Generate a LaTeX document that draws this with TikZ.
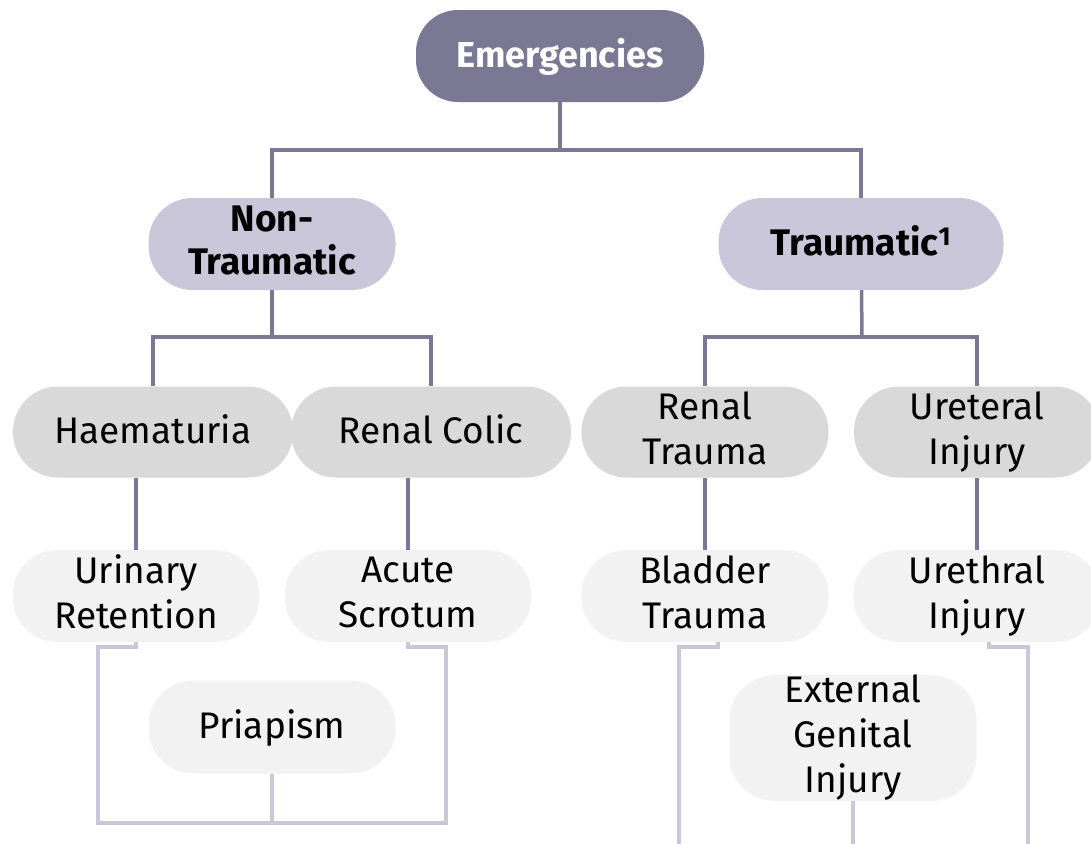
\documentclass[tikz,border=0pt]{standalone}
\usepackage{fontspec}
\setmainfont{Fira Sans}
\usepackage{tikz}
\usetikzlibrary{calc}
\definecolor{plumx}{HTML}{7B7893}
\definecolor{lilacx}{HTML}{C9C7D9}
\definecolor{greyx}{HTML}{D9D9D9}
\definecolor{palex}{HTML}{F2F2F2}
\newcommand{\capstrut}{\rule[-8pt]{0pt}{38pt}}
\tikzset{
  pill/.style={inner sep=0pt,align=center,execute at begin node=\capstrut,execute at end node=\capstrut},
  root/.style={pill,fill=plumx,text=white,rounded corners=42pt,minimum width=288pt,minimum height=92pt,font=\fontsize{36}{43}\selectfont\bfseries},
  sub/.style={pill,fill=lilacx,rounded corners=44pt,minimum width=247pt,minimum height=92pt,font=\fontsize{37}{43}\selectfont\bfseries},
  mid/.style={pill,fill=greyx,rounded corners=45pt,minimum width=280pt,minimum height=91pt,font=\fontsize{37}{45}\selectfont},
  leaf/.style={pill,fill=palex,rounded corners=45pt,minimum width=247pt,minimum height=92pt,font=\fontsize{37}{45}\selectfont},
  ln/.style={plumx,line width=3.5pt},
  lnl/.style={lilacx,line width=3.5pt}
}
\begin{document}
\begin{tikzpicture}[x=1pt,y=-1pt]
\fill[white] (0,0) rectangle (1091,844);
\useasboundingbox (0,0) rectangle (1091,844);
% top levels
\node[root] (emg) at (560,56) {Emergencies};
\node[sub] (nontr) at (272,244) {Non-\\Traumatic};
\node[sub,minimum width=285pt] (trau) at (861,244) {Traumatic\textsuperscript{1}};
% second level
\node[mid] (haem) at (153,432) {Haematuria};
\node[mid] (colic) at (431,432) {Renal Colic};
\node[mid,minimum width=247pt] (rtrau) at (705,432) {Renal\\Trauma};
\node[mid,minimum width=246pt] (uret) at (977,432) {Ureteral\\Injury};
% leaves
\node[leaf] (urin) at (136,596) {Urinary\\Retention};
\node[leaf] (scrot) at (408,596) {Acute\\Scrotum};
\node[leaf] (bladd) at (705,596) {Bladder\\Trauma};
\node[leaf] (ureth) at (977,596) {Urethral\\Injury};
\node[leaf,minimum height=93pt] (priap) at (272,727) {Priapism};
\node[leaf,minimum height=117pt] (egi) at (853,738) {External\\Genital\\Injury};
% dark connectors
\coordinate (busA) at (560,150);
\coordinate (busB) at (272,337);
\coordinate (busC) at (862,337);
\draw[ln] (emg) -- (busA);
\draw[ln] (nontr.north) |- (busA) -| (trau.north);
\draw[ln] (nontr) -- (busB);
\draw[ln] (haem.north) |- (busB) -| (colic.north);
\draw[ln] (trau) -- (busC);
\draw[ln] (rtrau.north) |- (busC) -| (uret.north);
\draw[ln] (haem.south -| urin.north) -- (urin.north);
\draw[ln] (colic.south -| scrot.north) -- (scrot.north);
\draw[ln] (rtrau) -- (bladd);
\draw[ln] (uret) -- (ureth);
% light connectors
\coordinate (pl) at (98,823);
\coordinate (pr) at (446,823);
\coordinate (ql) at (679,844);
\coordinate (qr) at (1028,844);
\draw[lnl] (urin.south) -- ++(0,5) -| (pl) -- (pr) |- ($(scrot.south)+(0,5)$) -- (scrot.south);
\draw[lnl] (priap) -- (priap |- pl);
\draw[lnl] ($(bladd.south)+(13,0)$) -- ++(0,5) -| (ql);
\draw[lnl] ($(ureth.south)+(12,0)$) -- ++(0,5) -| (qr);
\draw[lnl] (egi) -- (egi |- ql);
\end{tikzpicture}
\end{document}
